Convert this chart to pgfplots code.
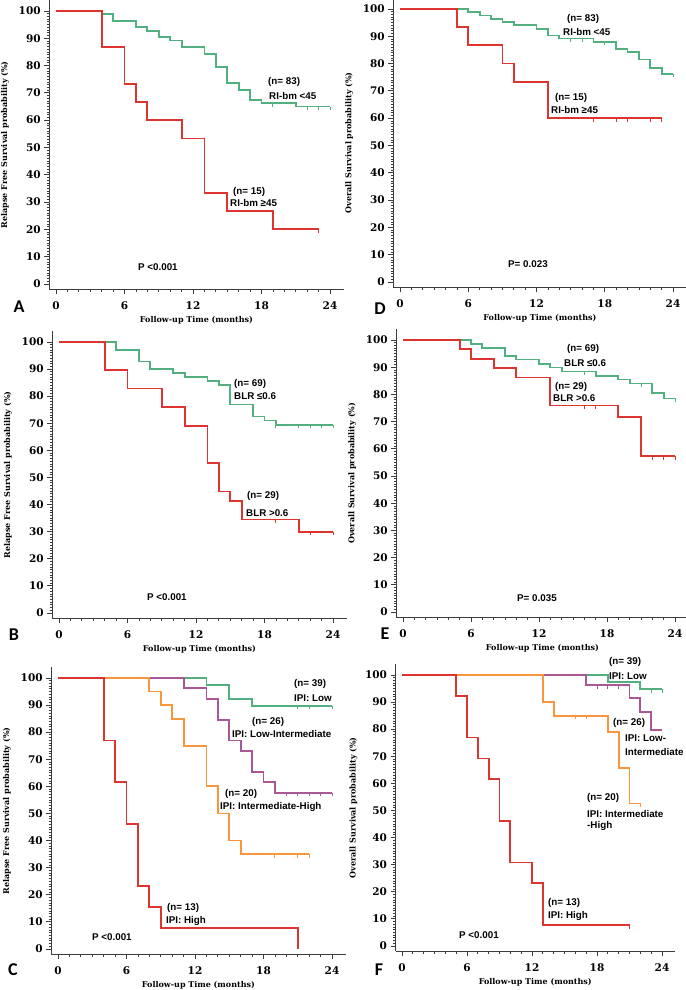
\documentclass[border=0pt]{standalone}
\usepackage{pgfplots}
\pgfplotsset{compat=1.18}
\usepackage{fontspec}
\newfontfamily\serifb{DejaVu Serif}
\newfontfamily\sansf{Liberation Sans}
\newfontfamily\letterf{Carlito}
\newcommand\tickfont{\serifb\bfseries\fontsize{10.5}{12}\selectfont}
\newcommand\labfont{\serifb\bfseries\fontsize{8}{9}\selectfont}
\newcommand\annfont{\sansf\bfseries\fontsize{9.8}{11}\selectfont}
\newcommand\letfont{\letterf\bfseries\fontsize{18}{20}\selectfont}
\definecolor{kmgreen}{RGB}{82,176,128}
\definecolor{kmred}{RGB}{222,52,48}
\definecolor{kmorange}{RGB}{247,150,60}
\definecolor{kmpurple}{RGB}{168,88,148}
\definecolor{axcol}{RGB}{60,60,60}
\pgfdeclareplotmark{cens}{\pgfpathmoveto{\pgfpoint{0pt}{0pt}}\pgfpathlineto{\pgfpoint{0pt}{-3.5pt}}\pgfusepathqstroke}
\pgfplotsset{
  km/.style={
    scale only axis, anchor=south west,
    axis x line=bottom, axis y line=left,
    axis line style={-, line width=1pt, draw=axcol},
    xmin=-0.6, xmax=25.2, ymin=-2, ymax=104,
    xtick={0,6,12,18,24}, minor xtick={0,1,...,24},
    ytick={0,10,...,100}, minor ytick={0,1,...,100},
    tick align=outside, major tick length=5pt, minor tick length=2.5pt,
    every tick/.style={axcol, line width=0.8pt},
    tick label style={font=\tickfont},
    xticklabel style={yshift=-4pt},
    /pgf/number format/assume math mode=true,
    xlabel={Follow-up Time (months)},
    xlabel style={font=\labfont, at={(axis description cs:0.5,-0.106)}, anchor=center},
    ylabel style={font=\labfont, at={(axis description cs:-0.15,0.5)}, anchor=center},
    clip=false,
  },
  km line/.style={const plot, line width=1.8pt, mark=none, line join=miter},
  km cens/.style={only marks, mark=cens, line width=1pt},
}
\newcommand\ann[3]{\node[anchor=west, inner sep=0pt, font=\annfont] at (#1pt,{990pt-#2pt}) {#3};}
\newcommand\plet[3]{\node[anchor=center, inner sep=0pt, font=\letfont] at (#1pt,{990pt-#2pt}) {#3};}
\begin{document}
\begin{tikzpicture}
\path[use as bounding box] (0,0) rectangle (685pt,990pt);
% ---------- A ----------
\begin{axis}[km, at={(49.15pt,700.54pt)}, width=294.6pt, height=289.4pt,
  ylabel={Relapse Free Survival probability (\%)}]
\addplot[km line, kmgreen] coordinates {(0,100)(4,98.8)(5,96.4)(7,94.0)(8,92.8)(9,90.4)(10,89.2)(11,86.7)(13,84.3)(14,79.5)(15,73.5)(16,71.1)(17,67.5)(18,66.2)(21,65.0)(24,65.0)};
\addplot[km cens, kmgreen] coordinates {(19,66.2)(22,65)(23,65)(24,65)};
\addplot[km line, kmred] coordinates {(0,100)(4,86.7)(6,73.3)(7,66.7)(8,60)(11,53.3)(13,33.3)(15,26.7)(19,20)(23,20)};
\addplot[km cens, kmred] coordinates {(23,20)};
\end{axis}
% ---------- D ----------
\begin{axis}[km, at={(393.2pt,702.54pt)}, width=293.5pt, height=289.4pt,
  ylabel={Overall Survival probability (\%)}]
\addplot[km line, kmgreen] coordinates {(0,100)(6,98.8)(7,97.6)(8,96.4)(9,95.2)(10,94.0)(12,92.6)(13,90.3)(14,89.2)(17,88.0)(19,85.4)(20,84.2)(21,81.5)(22,78.3)(23,76.3)(24,76.3)};
\addplot[km cens, kmgreen] coordinates {(15,89.2)(16,89.2)(18,88.0)(24,76.3)};
\addplot[km line, kmred] coordinates {(0,100)(5,93.3)(6,86.7)(9,80)(10,73.3)(13,60)(23,60)};
\addplot[km cens, kmred] coordinates {(17,60)(19,60)(20,60)(22,60)(23,60)};
\end{axis}
% ---------- B ----------
\begin{axis}[km, at={(52.15pt,371.58pt)}, width=294.6pt, height=287.3pt,
  ylabel={Relapse Free Survival probability (\%)}]
\addplot[km line, kmgreen] coordinates {(0,100)(5,97.1)(7,92.8)(8,89.9)(10,88.4)(11,87)(13,85.5)(14,84.1)(15,76.9)(17,72.5)(18,71)(19,69.4)(24,69.4)};
\addplot[km cens, kmgreen] coordinates {(19,69.4)(21,69.4)(22,69.4)(23,69.4)(24,69.4)};
\addplot[km line, kmred] coordinates {(0,100)(4,89.7)(6,82.8)(9,75.9)(11,69)(13,55.2)(14,44.8)(15,41.4)(16,34.5)(21,30)(24,30)};
\addplot[km cens, kmred] coordinates {(19,34.5)(22,30)(24,30)};
\end{axis}
% ---------- E ----------
\begin{axis}[km, at={(396.2pt,372.56pt)}, width=292.4pt, height=288.3pt,
  ylabel={Overall Survival probability (\%)}]
\addplot[km line, kmgreen] coordinates {(0,100)(6,98.6)(7,97.1)(9,94.2)(10,92.8)(12,91.3)(13,89.9)(14,88.4)(17,86.9)(19,85.5)(20,84.0)(22,80.5)(23,78.5)(24,78.5)};
\addplot[km cens, kmgreen] coordinates {(16,88.4)(21,84.0)(24,78.5)};
\addplot[km line, kmred] coordinates {(0,100)(5,96.6)(6,93.1)(8,89.7)(10,86.2)(13,75.9)(19,71.6)(21,57.3)(24,57.3)};
\addplot[km cens, kmred] coordinates {(16,75.9)(17,75.9)(22,57.3)(23,57.3)(24,57.3)};
\end{axis}
% ---------- C ----------
\begin{axis}[km, at={(51.15pt,35.58pt)}, width=294.6pt, height=287.3pt,
  ylabel={Relapse Free Survival probability (\%)}]
\addplot[km line, kmgreen] coordinates {(0,100)(13,97.4)(15,92.3)(17,89.7)(24,89.7)};
\addplot[km cens, kmgreen] coordinates {(21,89.7)(22,89.7)(24,89.7)};
\addplot[km line, kmpurple] coordinates {(0,100)(11,96.2)(13,92.3)(14,84.6)(15,76.9)(16,73.1)(17,65.4)(18,61.5)(19,57.7)(24,57.7)};
\addplot[km cens, kmpurple] coordinates {(20,57.7)(21,57.7)(22,57.7)(23,57.7)(24,57.7)};
\addplot[km line, kmorange] coordinates {(0,100)(8,95)(9,90)(10,85)(11,75)(13,60)(14,50)(15,40)(16,35)(22,35)};
\addplot[km cens, kmorange] coordinates {(19,35)(21,35)(22,35)};
\addplot[km line, kmred] coordinates {(0,100)(4,76.9)(5,61.5)(6,46.2)(7,23.1)(8,15.4)(9,7.7)(21,0)};
\end{axis}
% ---------- F ----------
\begin{axis}[km, at={(395.5pt,38.58pt)}, width=279.5pt, height=287.3pt,
  ylabel={Overall Survival probability (\%)}]
\addplot[km line, kmgreen] coordinates {(0,100)(19,97.4)(22,94.7)(24,94.7)};
\addplot[km cens, kmgreen] coordinates {(23,94.7)(24,94.7)};
\addplot[km line, kmpurple] coordinates {(0,100)(17,96.2)(21,91.5)(22,86.2)(23,79.6)(24,79.6)};
\addplot[km cens, kmpurple] coordinates {(18,96.2)(19,96.2)(20,96.2)};
\addplot[km line, kmorange] coordinates {(0,100)(13,90)(14,85)(19,79)(20,65.8)(21,52.6)(22,52.6)};
\addplot[km cens, kmorange] coordinates {(16,85)(17,85)(22,52.6)};
\addplot[km line, kmred] coordinates {(0,100)(5,92.3)(6,76.9)(7,69.2)(8,61.5)(9,46.2)(10,30.8)(12,23.1)(13,7.7)(21,7.7)};
\addplot[km cens, kmred] coordinates {(21,7.7)};
\end{axis}
% ---------- annotations ----------
\ann{268}{82}{(n= 83)}
\ann{269}{96}{RI-bm <45}
\ann{233}{192}{(n= 15)}
\ann{230}{203}{RI-bm ≥45}
\ann{138}{267}{P <0.001}
\ann{567}{19}{(n= 83)}
\ann{563}{32}{RI-bm <45}
\ann{555}{98}{(n= 15)}
\ann{551}{110}{RI-bm ≥45}
\ann{508}{264}{P= 0.023}
\ann{234}{384}{(n= 69)}
\ann{234}{396}{BLR ≤0.6}
\ann{247}{496}{(n= 29)}
\ann{246}{513}{BLR >0.6}
\ann{147}{597}{P <0.001}
\ann{567}{349}{(n= 69)}
\ann{564}{363}{BLR ≤0.6}
\ann{555}{387}{(n= 29)}
\ann{553}{398}{BLR >0.6}
\ann{517}{598}{P= 0.035}
\ann{294}{684}{(n= 39)}
\ann{294}{698}{IPI: Low}
\ann{252}{722}{(n= 26)}
\ann{232}{734}{IPI: Low-Intermediate}
\ann{225}{794}{(n= 20)}
\ann{220}{807}{IPI: Intermediate-High}
\ann{167}{908}{(n= 13)}
\ann{166}{921}{IPI: High}
\ann{92}{937}{P <0.001}
\ann{609}{662}{(n= 39)}
\ann{609}{676}{IPI: Low}
\ann{613}{723}{(n= 26)}
\ann{625}{738}{IPI: Low-}
\ann{625}{752}{Intermediate}
\ann{587}{798}{(n= 20)}
\ann{587}{814}{IPI: Intermediate}
\ann{587}{826}{-High}
\ann{548}{903}{(n= 13)}
\ann{548}{916}{IPI: High}
\ann{459}{935}{P <0.001}
% ---------- panel letters ----------
\plet{19}{307}{A}
\plet{380}{309}{D}
\plet{14}{635}{B}
\plet{385}{634}{E}
\plet{13}{970}{C}
\plet{379}{970}{F}
\end{tikzpicture}
\end{document}
